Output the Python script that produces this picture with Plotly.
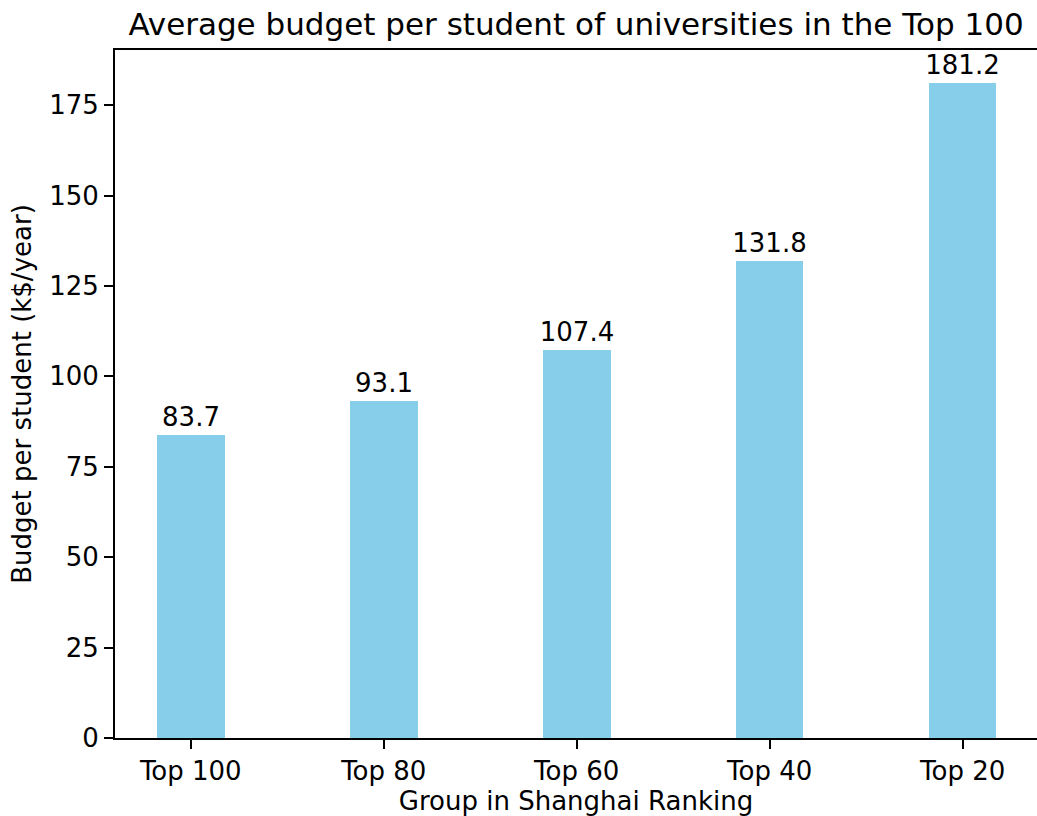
import plotly.graph_objects as go

categories = ["Top 100", "Top 80", "Top 60", "Top 40", "Top 20"]
budget = [83.7, 93.1, 107.4, 131.8, 181.2]
labels = ["83.7", "93.1", "107.4", "131.8", "181.2"]
y_ticks = [0, 25, 50, 75, 100, 125, 150, 175]

FONT = "DejaVu Sans"
x_pos = list(range(len(categories)))

fig = go.Figure()
fig.add_trace(go.Bar(
    x=x_pos, y=budget, width=0.35,
    marker=dict(color="#87CEEB", line=dict(width=0)),
    text=labels, textposition="outside", constraintext="none",
    textfont=dict(family=FONT, size=26, color="black"),
    cliponaxis=False,
))

fig.update_layout(
    width=1037, height=816,
    margin=dict(l=115, r=0, t=50, b=78),
    plot_bgcolor="white", paper_bgcolor="white",
    font=dict(family=FONT, size=26, color="black"),
    title=dict(text="Average budget per student of universities in the Top 100",
               x=576 / 1037, xanchor="center", y=1 - 24 / 816, yanchor="middle",
               font=dict(family=FONT, size=31, color="black")),
    showlegend=False,
    bargap=0,
)
fig.update_xaxes(
    range=[-0.3925, 4.385],
    tickmode="array", tickvals=x_pos, ticktext=categories,
    showline=True, linecolor="black", linewidth=2, mirror=True,
    ticks="outside", ticklen=9, tickwidth=2, tickcolor="black",
    showgrid=False, zeroline=False,
    title=dict(text="Group in Shanghai Ranking", standoff=5,
               font=dict(family=FONT, size=26)),
)
fig.update_yaxes(
    range=[0, 190.26],
    tickmode="array", tickvals=y_ticks,
    showline=True, linecolor="black", linewidth=2,
    ticks="outside", ticklen=9, tickwidth=2, tickcolor="black",
    showgrid=False, zeroline=False,
    title=dict(text="Budget per student (k$/year)", standoff=10,
               font=dict(family=FONT, size=26)),
)

fig.write_html("out.html", config={"displayModeBar": False},
               post_script="document.body.style.margin='0';document.body.style.overflow='hidden';")
